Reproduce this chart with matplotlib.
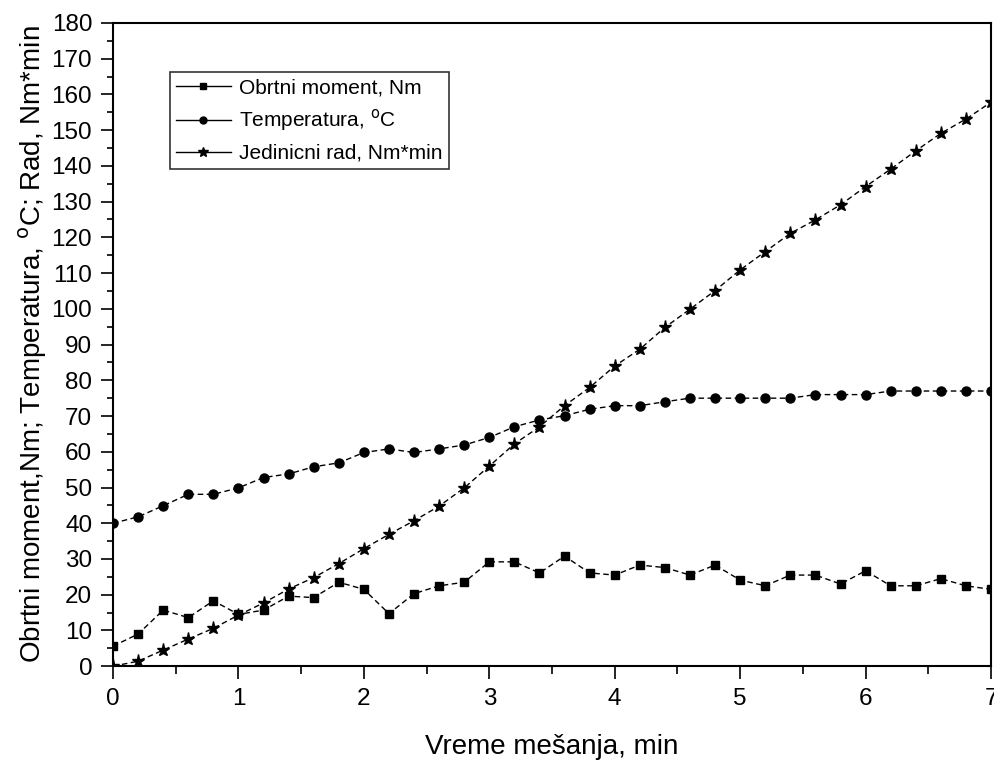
import numpy as np
import matplotlib.pyplot as plt
from matplotlib.lines import Line2D
from matplotlib.ticker import MultipleLocator

plt.rcParams['font.family'] = ['Liberation Sans', 'DejaVu Sans']

# vreme mesanja, min (korak 0.2)
vreme = [0.0, 0.2, 0.4, 0.6, 0.8, 1.0, 1.2, 1.4, 1.6, 1.8,
         2.0, 2.2, 2.4, 2.6, 2.8, 3.0, 3.2, 3.4, 3.6, 3.8,
         4.0, 4.2, 4.4, 4.6, 4.8, 5.0, 5.2, 5.4, 5.6, 5.8,
         6.0, 6.2, 6.4, 6.6, 6.8, 7.0]

obrtni_moment = [5.6, 9.0, 15.7, 13.6, 18.3, 14.5, 15.7, 19.6, 19.2, 23.5,
                 21.5, 14.7, 20.3, 22.5, 23.5, 29.2, 29.2, 26.1, 30.8, 26.1,
                 25.5, 28.3, 27.6, 25.5, 28.3, 24.1, 22.5, 25.5, 25.5, 23.0,
                 26.7, 22.5, 22.5, 24.5, 22.5, 21.5]

temperatura = [40.0, 41.8, 44.9, 48.1, 48.1, 49.9, 52.8, 53.8, 55.8, 56.9,
               59.8, 60.8, 59.8, 60.8, 61.9, 64.0, 67.0, 68.9, 70.1, 71.9,
               72.9, 72.9, 74.0, 75.0, 75.0, 75.0, 75.0, 75.0, 76.0, 76.0,
               76.0, 77.0, 77.0, 77.0, 77.0, 77.0]

jedinicni_rad = [0.0, 1.4, 4.5, 7.6, 10.6, 14.3, 17.7, 21.6, 24.8, 28.7,
                 32.9, 36.9, 40.7, 44.8, 49.9, 56.0, 62.2, 67.0, 72.9, 78.0,
                 84.0, 88.7, 94.8, 99.9, 105.1, 110.9, 116.0, 121.1, 124.9, 129.1,
                 134.2, 139.1, 144.2, 149.1, 153.1, 157.8]

labels = ['Obrtni moment, Nm', r'Temperatura, $^\mathrm{o}$C', 'Jedinicni rad, Nm*min']

fig = plt.figure(figsize=(9.95, 7.64), dpi=100)
ax = fig.add_axes([0.1136, 0.128, 0.8824, 0.842])

ls = (0, (4, 2.5))
ax.plot(vreme, obrtni_moment, color='black', lw=1, linestyle=ls, marker='s', markersize=6)
ax.plot(vreme, temperatura, color='black', lw=1, linestyle=ls, marker='o', markersize=6.5)
ax.plot(vreme, jedinicni_rad, color='black', lw=1, linestyle=ls, marker='*', markersize=9.5)

ax.set_xlim(0, 7)
ax.set_ylim(0, 180)
ax.xaxis.set_major_locator(MultipleLocator(1))
ax.xaxis.set_minor_locator(MultipleLocator(0.5))
ax.yaxis.set_major_locator(MultipleLocator(10))
ax.yaxis.set_minor_locator(MultipleLocator(5))

ax.tick_params(axis='both', which='major', direction='out', length=9, width=1.2,
               labelsize=17.5, top=False, right=False)
ax.tick_params(axis='x', which='major', pad=7)
ax.tick_params(axis='y', which='major', pad=6)
ax.tick_params(axis='x', which='minor', direction='out', length=6, width=1.2)
ax.tick_params(axis='y', which='minor', direction='out', length=4, width=1.2)

for sp in ax.spines.values():
    sp.set_linewidth(1.5)

ax.set_xlabel('Vreme mešanja, min', fontsize=20)
ax.set_ylabel(r'Obrtni moment,Nm; Temperatura, $^\mathrm{o}$C; Rad, Nm*min', fontsize=20)
ax.xaxis.set_label_coords(0.5, -0.106)
ax.yaxis.set_label_coords(-0.073, 0.5)

handles = [Line2D([], [], color='black', lw=1, marker=m, markersize=s)
           for m, s in [('s', 5), ('o', 5), ('*', 7)]]
leg = ax.legend(handles, labels, loc='upper left', bbox_to_anchor=(0.065, 0.924),
                fontsize=15, frameon=True, fancybox=False, shadow=False,
                handlelength=2.6, handletextpad=0.4, labelspacing=0.5,
                borderpad=0.3, borderaxespad=0)
leg.get_frame().set_edgecolor('black')
leg.get_frame().set_linewidth(1.2)

plt.savefig('out.png', dpi=100)
